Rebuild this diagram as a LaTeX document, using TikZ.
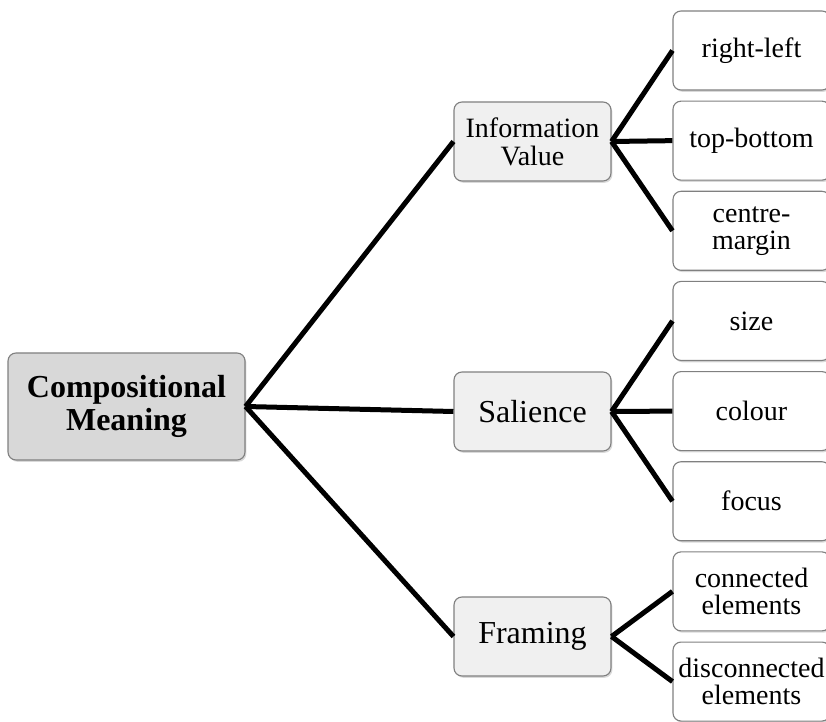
\documentclass[tikz,border=0pt]{standalone}
\usepackage{fontspec}
\setmainfont{Liberation Serif}
\usepackage{xcolor}
\usetikzlibrary{shadows}
\definecolor{boxEdge}{RGB}{128,128,128}
\definecolor{rootFill}{RGB}{216,216,216}
\definecolor{midFill}{RGB}{240,240,240}

\begin{document}
\begin{tikzpicture}[x=0.5pt,y=-0.5pt,
    basebox/.style={draw=boxEdge, line width=0.55pt, rounded corners=4pt, align=center,
        inner sep=1pt, drop shadow={opacity=0.3, shadow xshift=0.7pt, shadow yshift=-0.9pt}},
    rootbox/.style={basebox, fill=rootFill, minimum width=118.5pt, minimum height=53.5pt,
        font=\fontsize{16}{16.5}\selectfont\bfseries},
    midbox/.style={basebox, fill=midFill, minimum width=78.5pt, minimum height=39.5pt},
    leafbox/.style={basebox, fill=white, minimum width=78.5pt, minimum height=39.5pt,
        font=\fontsize{14}{13.5}\selectfont},
    link/.style={line width=2.5pt, black}]
    \useasboundingbox (0,0) rectangle (826,722);

    \node[rootbox] (root) at (126.5,406.5) {Compositional\\Meaning};

    \node[midbox, font=\fontsize{14}{14}\selectfont] (info) at (532.5,141.5) {Information\\Value};
    \node[midbox, font=\fontsize{16}{16}\selectfont] (sal) at (532.5,411.5) {Salience};
    \node[midbox, font=\fontsize{16}{16}\selectfont] (fram) at (532.5,636.5) {Framing};

    \foreach \nm/\txt [count=\i from 0] in {rl/right-left, tb/top-bottom, cm/centre-\\margin,
        sz/size, col/colour, foc/focus, con/connected\\elements, dis/disconnected\\elements}
        \node[leafbox] (\nm) at (751.5,{50.5+90.15*\i}) {\txt};

    \draw[link] (root.east) -- (info.west);
    \draw[link] (root.east) -- (sal.west);
    \draw[link] (root.east) -- (fram.west);

    \foreach \l in {rl,tb,cm} \draw[link] (info.east) -- (\l.west);
    \foreach \l in {sz,col,foc} \draw[link] (sal.east) -- (\l.west);
    \foreach \l in {con,dis} \draw[link] (fram.east) -- (\l.west);
\end{tikzpicture}
\end{document}
